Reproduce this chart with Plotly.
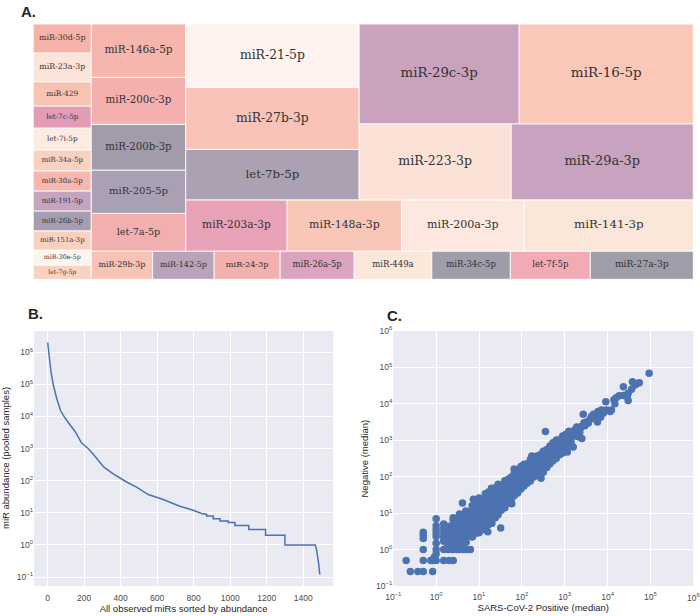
import math
import plotly.graph_objects as go

# ---------------- Panel A: treemap data (ascending, as laid out) ----------------
mir_labels = [
    "let-7g-5p", "miR-30e-5p", "miR-151a-3p", "miR-26b-5p", "miR-191-5p", "miR-30a-5p",
    "miR-34a-5p", "let-7i-5p", "let-7c-5p", "miR-429", "miR-23a-3p", "miR-30d-5p",
    "miR-29b-3p", "miR-142-5p", "miR-24-3p", "miR-26a-5p", "miR-449a", "miR-34c-5p",
    "let-7f-5p", "miR-27a-3p", "let-7a-5p", "miR-205-5p", "miR-200b-3p", "miR-200c-3p",
    "miR-146a-5p", "miR-203a-3p", "miR-148a-3p", "miR-200a-3p", "miR-141-3p", "let-7b-5p",
    "miR-27b-3p", "miR-21-5p", "miR-223-3p", "miR-29a-3p", "miR-29c-3p", "miR-16-5p",
]
mir_values = [
    829, 870, 1119, 1155, 1160, 1165,
    1218, 1270, 1280, 1409, 1670, 1680,
    1738, 1742, 1868, 2094, 2199, 2224,
    2264, 2915, 3570, 4100, 4328, 4451,
    5048, 5200, 5865, 6290, 8670, 8770,
    10745, 11040, 11600, 13890, 16000, 17400,
]
mir_colors = [
    "#FAD2C2", "#FDF4EE", "#FAD0C0", "#A69EB0", "#C4A4BE", "#F6B8AE",
    "#FAD0BF", "#FDEBE2", "#E29CB6", "#F9C3B3", "#FCE4D8", "#F5B3AA",
    "#F8C2B4", "#B8A3BA", "#F2B0AF", "#DBA3BF", "#FCE7DB", "#A09DAA",
    "#F2ABB5", "#A09DAA", "#F3AFB0", "#A9A1B3", "#A29CAA", "#F3B0AE",
    "#F6B6AD", "#E8A2B7", "#F8C7B8", "#FCE8DE", "#FBE6DA", "#ABA1B3",
    "#F8C3B6", "#FEF3EE", "#FCE2D6", "#C7A3BF", "#CAA2BE", "#FAC8B9",
]

# ---------------- Panel B: abundance curve ----------------
rank = [0, 9, 18, 31, 49, 71, 95, 122, 150, 186, 222, 259, 308, 359, 432, 487, 551, 633,
        706, 724, 797, 843, 871, 871, 907, 907, 944, 944, 989, 989, 1026, 1026, 1102, 1102,
        1194, 1194, 1300, 1300, 1466, 1473, 1484, 1491]
abundance = [2.0e6, 6.5e5, 2.5e5, 9.5e4, 3.7e4, 1.5e4, 8900, 5500, 3400, 1480, 1000, 575, 263,
             162, 91, 63, 37, 26, 17, 16, 12, 9.5, 8.9, 8, 8, 6.5, 6.5, 5.5, 5.5, 5, 5, 4, 4, 3,
             3, 2, 2, 1, 1, 0.72, 0.28, 0.12]
b_xticks = [0, 200, 400, 600, 800, 1000, 1200, 1400]

# ---------------- Panel C: medians ----------------
pos_median = [
    0.2, 0.25, 0.375, 0.5, 0.83, 0.5, 0.5, 0.5, 0.5, 0.5, 0.83, 0.75, 0.9,
    1, 1, 1, 1, 1, 1, 1, 1, 1,
    1.5, 1.5, 1.5, 1.5, 1.5, 1.5, 1.5,
    2, 2.5, 1.9, 2.4, 3, 3.5, 4.2, 5.1, 6.3,
    1.8, 1.9, 2.0, 1.8, 1.9, 2.0,
    2.4, 2.5, 2.6, 2.5, 2.4, 2.6, 2.5, 2.5,
    3.0, 3.0, 3.0, 3.0, 3.0,
    3.4, 3.6, 3.5, 3.5, 3.4, 3.6, 3.5, 3.5,
    4.3, 4.2, 4.4, 4.3, 4.2, 4.3,
    5.0, 4.8, 5.2, 5.0, 4.8, 5.1, 5.0, 4.9,
    6.0, 6.1, 5.9, 6.0, 6.2, 6.0,
    7.0, 7.3, 7.0, 6.8, 7.2, 7.0, 7.1, 6.9,
    8.5, 8.6, 8.3, 8.5, 8.7, 8.4, 8.5,
    10, 10.5, 9.7, 10, 10.3, 9.8, 10, 10.2, 10,
    12, 12.3, 11.8, 12, 12.2, 11.9, 12,
    14, 14.5, 13.6, 14, 14.3, 13.8, 14, 14.4, 14,
    16.6, 16, 17, 16.6, 16.2, 17, 16.6, 16.6,
    20, 19, 20.5, 20, 19.5, 20, 20.5, 20, 19.5,
    24, 23, 24.5, 24, 23.5, 24.5, 24, 24,
    28, 27, 29, 28, 27.5, 28.5, 28, 27, 28,
    33, 32, 34, 33, 32.5, 33.5, 33,
    40, 39, 41, 40, 39, 41, 40, 40,
    48, 47, 49, 48, 47, 49, 48,
    56, 55, 57, 56, 55, 57, 56,
    66, 65, 67, 66, 65, 67, 66,
    80, 78, 82, 80, 79, 81, 80,
    95, 93, 97, 95, 93, 97, 95,
    112, 110, 115, 112, 110, 114, 112,
    132, 130, 135, 132, 130, 134,
    158, 155, 162, 158, 155, 160, 158,
    190, 186, 194, 190, 186, 192,
    224, 220, 228, 224, 220, 226,
    263, 258, 268, 263, 258, 266,
    316, 310, 322, 316, 310, 318, 316,
    380, 372, 388, 380, 372, 385,
    447, 440, 455, 447, 440, 450,
    525, 515, 535, 525, 515, 530,
    631, 620, 640, 631, 620, 635,
    760, 745, 775, 760, 750,
    891, 880, 900, 891, 880, 895,
    1050, 1030, 1070, 1050, 1040,
    1260, 1240, 1280, 1260, 1250,
    93300, 38000, 47900, 55000, 43700, 23400, 36300, 30200, 28800, 30200,
    15800, 18600, 23400, 14100, 14800, 9100, 7200, 9500, 11500, 6000,
    5600, 4700, 3900, 3200, 2700, 2300, 1900, 1600, 1450, 2700,
    1740, 2100, 2500, 1120, 1020, 780, 650, 1580, 500, 380, 355,
    4200, 5000, 6800, 8300, 3550, 2950, 2400, 2000, 1780, 1320,
    1260, 1170, 2240, 2820, 1410, 890, 950,
    7900, 12300, 6900, 5800,
    4.1, 7.4, 16, 32, 170, 280, 58, 66, 1150,
]
neg_median = [
    0.5, 0.25, 0.25, 0.25, 0.25, 0.5, 1.0, 2.0, 2.5, 3.0, 0.5, 0.5, 0.62,
    0.5, 0.75, 1.0, 1.5, 2.3, 2.8, 3.5, 4.5, 7,
    0.5, 1.0, 1.7, 2.2, 2.9, 3.8, 5.0,
    0.5, 0.5, 1, 1, 1, 1, 1, 1, 1,
    1.1, 1.5, 2.0, 2.6, 3.4, 4.4,
    1.2, 1.6, 2.1, 2.8, 3.6, 4.7, 6.5, 7.5,
    1.4, 2.0, 2.9, 4.2, 6.0,
    1.3, 1.7, 2.3, 3.0, 4.0, 5.2, 7.0, 9.5,
    1.6, 2.4, 3.3, 4.6, 6.6, 9,
    1.6, 2.1, 2.7, 3.6, 4.8, 6.3, 8.5, 11.5,
    2.4, 3.2, 4.4, 6.0, 8, 10.5,
    2.2, 2.9, 3.8, 5.0, 6.6, 8.8, 11.5, 16,
    2.8, 4.0, 5.6, 7.6, 10, 13.5, 18,
    2.9, 3.8, 5.0, 6.6, 8.6, 11, 15, 20, 26,
    3.5, 4.8, 6.6, 9, 12, 16, 22,
    3.6, 4.8, 6.2, 8.2, 11, 14, 19, 25, 34,
    4.8, 6.6, 8.8, 12, 16, 21, 28, 38,
    5.3, 7, 9, 12, 16, 21, 28, 37, 48,
    7.5, 10, 13, 17, 23, 30, 40, 50,
    9, 12, 15, 20, 26, 34, 44, 55, 62,
    12, 16, 21, 27, 35, 45, 58,
    14, 18, 23, 30, 39, 50, 64, 78,
    19, 25, 32, 42, 54, 68, 85,
    22, 28, 36, 47, 60, 77, 97,
    30, 38, 50, 64, 82, 105, 125,
    36, 46, 60, 78, 100, 130, 155,
    46, 60, 76, 98, 125, 160, 190,
    56, 72, 92, 118, 150, 190, 220,
    66, 85, 108, 140, 178, 225,
    76, 98, 125, 160, 205, 260, 295,
    98, 125, 160, 205, 260, 330,
    112, 145, 185, 235, 300, 370,
    125, 160, 200, 255, 320, 400,
    132, 170, 215, 275, 350, 440, 500,
    180, 230, 290, 370, 470, 560,
    224, 285, 360, 460, 580, 700,
    270, 350, 440, 560, 700, 850,
    316, 400, 510, 650, 830, 1000,
    400, 510, 640, 800, 1000,
    447, 570, 720, 920, 1170, 1320,
    580, 740, 930, 1150, 1450,
    660, 850, 1080, 1380, 1780,
    69200, 40700, 36300, 38000, 33100, 29500, 25100, 19500, 15800, 12300,
    14800, 16600, 17000, 12900, 10000, 11500, 6800, 6800, 6200, 6200,
    4300, 5200, 3700, 3200, 2600, 2100, 2300, 1800, 1550, 5200,
    1320, 1260, 1120, 1320, 910, 830, 1020, 650, 600, 540, 1740,
    4500, 4000, 5800, 6000, 3000, 2500, 2350, 1780, 2000, 1120,
    1580, 980, 1660, 3020, 890, 1120, 760,
    5500, 6800, 4300, 3200,
    19, 24, 3.1, 3.9, 370, 91, 18, 162, 480,
]
log_ticks = [-1, 0, 1, 2, 3, 4, 5, 6]
log_ticktext = ["10<sup>−1</sup>", "10<sup>0</sup>", "10<sup>1</sup>", "10<sup>2</sup>",
                "10<sup>3</sup>", "10<sup>4</sup>", "10<sup>5</sup>", "10<sup>6</sup>"]


# ---------------- squarify layout (same algorithm as the squarify package) ----------------
def layoutrow(sizes, x, y, dx, dy):
    width = sum(sizes) / dy
    rects = []
    for s in sizes:
        rects.append((x, y, width, s / width))
        y += s / width
    return rects


def layoutcol(sizes, x, y, dx, dy):
    height = sum(sizes) / dx
    rects = []
    for s in sizes:
        rects.append((x, y, s / height, height))
        x += s / height
    return rects


def layout(sizes, x, y, dx, dy):
    return layoutrow(sizes, x, y, dx, dy) if dx >= dy else layoutcol(sizes, x, y, dx, dy)


def leftover(sizes, x, y, dx, dy):
    if dx >= dy:
        w = sum(sizes) / dy
        return x + w, y, dx - w, dy
    h = sum(sizes) / dx
    return x, y + h, dx, dy - h


def worst_ratio(sizes, x, y, dx, dy):
    return max(max(r[2] / r[3], r[3] / r[2]) for r in layout(sizes, x, y, dx, dy))


def squarify(sizes, x, y, dx, dy):
    if len(sizes) == 0:
        return []
    if len(sizes) == 1:
        return layout(sizes, x, y, dx, dy)
    i = 1
    while i < len(sizes) and worst_ratio(sizes[:i], x, y, dx, dy) >= worst_ratio(sizes[:i + 1], x, y, dx, dy):
        i += 1
    cur, rem = sizes[:i], sizes[i:]
    lx, ly, ldx, ldy = leftover(cur, x, y, dx, dy)
    return layout(cur, x, y, dx, dy) + squarify(rem, lx, ly, ldx, ldy)


total = float(sum(mir_values))
norm = [v * 10000.0 / total for v in mir_values]
rects = squarify(norm, 0.0, 0.0, 100.0, 100.0)
vmin = min(mir_values)

fig = go.Figure()

shapes = []
cx, cy, fsizes = [], [], []
for (x0, y0, w, h), col, v in zip(rects, mir_colors, mir_values):
    shapes.append(dict(type="rect", xref="x", yref="y", x0=x0, x1=x0 + w, y0=y0, y1=y0 + h,
                       fillcolor=col, line=dict(color="rgba(255,255,255,0.85)", width=1),
                       layer="below"))
    cx.append(x0 + w / 2)
    cy.append(y0 + h / 2)
    fsizes.append(round(6.2 + 2.4 * math.log(v / vmin), 2))

fig.add_trace(go.Scatter(x=cx, y=cy, text=mir_labels, mode="text", xaxis="x", yaxis="y",
                         textposition="middle center",
                         textfont=dict(family="DejaVu Serif", size=fsizes, color="#333333"),
                         hoverinfo="skip", showlegend=False))

# backgrounds for B and C (seaborn darkgrid)
for ax in ["2", "3"]:
    shapes.append(dict(type="rect", xref=f"x{ax} domain", yref=f"y{ax} domain", x0=0, x1=1, y0=0, y1=1,
                       fillcolor="#EAEAF2", line=dict(width=0), layer="below"))

fig.add_trace(go.Scatter(x=rank, y=abundance, mode="lines", xaxis="x2", yaxis="y2",
                         line=dict(color="#4C72B0", width=1.5), showlegend=False))

fig.add_trace(go.Scatter(x=pos_median, y=neg_median, mode="markers", xaxis="x3", yaxis="y3",
                         marker=dict(color="#4C72B0", size=7.5, line=dict(width=0)),
                         showlegend=False))

W, H = 700.0, 616.0
FONT = "Liberation Sans, Arial"
tickfont = dict(family=FONT, size=8.5, color="#4a4a4a")
titlefont = dict(family=FONT, size=9.5, color="#262626")
common = dict(showgrid=True, gridcolor="white", gridwidth=1, zeroline=False, showline=False,
              ticks="", tickfont=tickfont, automargin=False)
logvals = [10 ** t for t in log_ticks]

fig.update_layout(
    width=700, height=616,
    margin=dict(l=0, r=0, t=0, b=0, autoexpand=False),
    paper_bgcolor="white", plot_bgcolor="white",
    shapes=shapes,
    xaxis=dict(domain=[33.3 / W, 693.3 / W], range=[0, 100], visible=False, anchor="y", automargin=False),
    yaxis=dict(domain=[1 - 279.3 / H, 1 - 24 / H], range=[0, 100], visible=False, anchor="x", automargin=False),
    xaxis2=dict(domain=[34 / W, 333.3 / W], anchor="y2", range=[-75, 1565], tickvals=b_xticks,
                ticklabelstandoff=5,
                title=dict(text="All observed miRs sorted by abundance", font=titlefont, standoff=3),
                **common),
    yaxis2=dict(domain=[1 - 586 / H, 1 - 331 / H], anchor="x2", type="log", range=[-1.28, 6.66],
                tickvals=logvals, ticktext=log_ticktext, **common),
    xaxis3=dict(domain=[393.3 / W, 693.3 / W], anchor="y3", type="log", range=[-1, 6],
                tickvals=logvals, ticktext=log_ticktext, ticklabelstandoff=4,
                title=dict(text="SARS-CoV-2 Positive (median)", font=titlefont, standoff=3),
                **common),
    yaxis3=dict(domain=[1 - 586 / H, 1 - 331 / H], anchor="x3", type="log", range=[-1, 6],
                tickvals=logvals, ticktext=log_ticktext, ticklabeloverflow="allow", **common),
    annotations=[
        dict(text="<b>A.</b>", x=19 / W, y=1 - 12 / H, xref="paper", yref="paper", showarrow=False,
             xanchor="left", yanchor="middle", font=dict(family=FONT, size=15, color="#262626")),
        dict(text="<b>B.</b>", x=26 / W, y=1 - 313 / H, xref="paper", yref="paper", showarrow=False,
             xanchor="left", yanchor="middle", font=dict(family=FONT, size=15, color="#262626")),
        dict(text="<b>C.</b>", x=385 / W, y=1 - 315 / H, xref="paper", yref="paper", showarrow=False,
             xanchor="left", yanchor="middle", font=dict(family=FONT, size=15, color="#262626")),
        dict(text="miR abundance (pooled samples)", x=5.5 / W, y=1 - 458.5 / H, xref="paper", yref="paper",
             showarrow=False, textangle=-90, xanchor="center", yanchor="middle", font=titlefont),
        dict(text="Negative (median)", x=364 / W, y=1 - 458.5 / H, xref="paper", yref="paper",
             showarrow=False, textangle=-90, xanchor="center", yanchor="middle", font=titlefont),
        # last x tick label of panel C (plotly hides it at the page edge)
        dict(text=log_ticktext[-1], x=6, xref="x3", y=1 - 597 / H, yref="paper", showarrow=False,
             xanchor="center", yanchor="middle", font=tickfont),
    ],
)

fig.write_html("out.html", config={"displayModeBar": False},
               post_script="document.body.style.margin='0px';document.body.style.padding='0px';"
                           "document.body.style.overflow='hidden';")
